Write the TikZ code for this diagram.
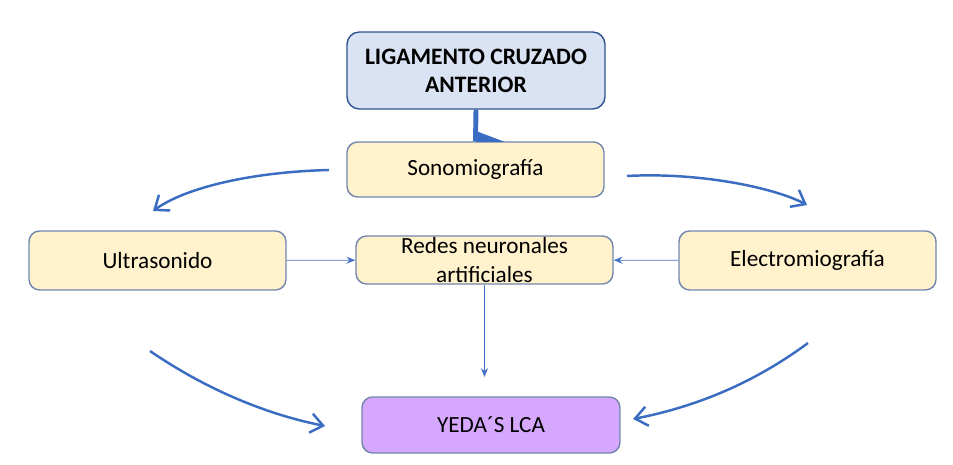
\documentclass[tikz,border=0pt]{standalone}
\usepackage{fontspec}
\setmainfont{Carlito}
\usepackage{tikz}
\usetikzlibrary{arrows.meta,positioning,calc}

\definecolor{lcafill}{HTML}{DAE3F3}
\definecolor{lcadraw}{HTML}{2F528F}
\definecolor{boxfill}{HTML}{FFF2CC}
\definecolor{boxdraw}{HTML}{7185AD}
\definecolor{yedafill}{HTML}{D5A8FD}
\definecolor{arrblue}{HTML}{4472C4}
\definecolor{curblue}{HTML}{3A6DC2}

\begin{document}
\begin{tikzpicture}[
    x=0.02cm, y=-0.02cm,
    top/.style={draw=lcadraw, line width=0.8pt, rounded corners=7pt, fill=lcafill, minimum width=5.16cm, minimum height=1.54cm, align=center, font=\fontsize{13.4}{16}\selectfont\bfseries},
    box/.style={draw=boxdraw, line width=0.8pt, rounded corners=6pt, fill=boxfill, minimum width=5.14cm, minimum height=1.14cm, align=center, font=\fontsize{13.2}{16}\selectfont},
    arr/.style={-{Stealth[length=5pt,width=4pt]}, arrblue, line width=0.5pt},
    carr/.style={-{Straight Barb[length=7pt,width=11pt]}, curblue, line width=1.4pt}
]
\useasboundingbox (0,0) rectangle (953,465);

\node[top] (lca) at (476,70.5) {LIGAMENTO CRUZADO\\ANTERIOR};
\node[box, minimum height=1.1cm] (sono) at (475.5,169.5) {Sonomiograf\'ia};
\node[box, minimum height=1.18cm] (ultra) at (157.5,260.5) {Ultrasonido};
\node[box, minimum height=0.96cm, inner sep=0pt] (redes) at (484.5,260) {Redes neuronales\\artificiales};
\node[box, minimum height=1.18cm] (electro) at (807.5,260.5) {Electromiograf\'ia};
\node[box, fill=yedafill, minimum width=5.16cm, minimum height=1.12cm] (yeda) at (491,425) {YEDA´S LCA};

% lca -> sonomiografia
\draw[curblue, line width=2.8pt] (lca.south) -- (sono.north);
\fill[curblue] (476,131) -- (505,142) -- (476,142) -- cycle;

% curved arrows
\coordinate (c1s) at (329,170);
\coordinate (c1e) at (153,211);
\coordinate (c2s) at (627,176);
\coordinate (c2e) at (807,205);
\coordinate (c3s) at (150,351);
\coordinate (c3e) at (325,426);
\coordinate (c4s) at (808,343);
\coordinate (c4e) at (633,419);
\draw[carr] (c1s) .. controls (250,172) and (185,188) .. (c1e);
\draw[carr] (c2s) .. controls (700,172) and (775,188) .. (c2e);
\draw[carr] (c3s) .. controls (210,392) and (270,415) .. (c3e);
\draw[carr] (c4s) .. controls (750,386) and (690,408) .. (c4e);

% straight arrows
\coordinate (rend) at (484.5,377);
\draw[arr] (ultra) -- (redes);
\draw[arr] (electro) -- (redes);
\draw[arr] (redes.south) -- (rend);
\end{tikzpicture}
\end{document}
